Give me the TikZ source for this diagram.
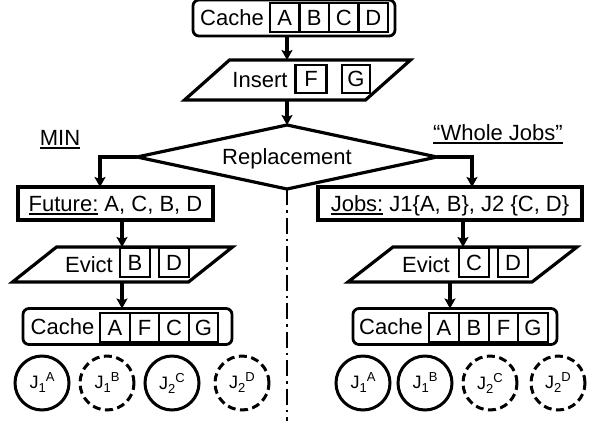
\documentclass[tikz,border=0pt]{standalone}
\usepackage{fontspec}
\setmainfont{Liberation Sans}
\usetikzlibrary{arrows.meta,shapes.geometric,calc}
\newcommand\myul[1]{\setbox0\hbox{#1}\rlap{\rule[-3.5pt]{\wd0}{2pt}}\box0\relax}
\newcommand\jlab[2]{J\raisebox{-4pt}{\fontsize{13}{13}\selectfont #1}\raisebox{7pt}{\fontsize{13}{13}\selectfont #2}}
\newcommand\drawpara[2]{\draw[line width=3.2pt, line join=miter] ([xshift=-#2]#1.south west) -- ([xshift=-#2]#1.south east) -- ([xshift=#2]#1.north east) -- ([xshift=#2]#1.north west) -- cycle;}
\begin{document}
\begin{tikzpicture}[x=1pt,y=-1pt,
  font=\fontsize{22}{24}\selectfont,
  lbl/.style={inner sep=0pt, outer sep=0pt, text height=15.7pt, text depth=0pt},
  boxn/.style={lbl, draw, line width=3.4pt, minimum height=33pt},
  cachebox/.style={draw, rounded corners=6pt, line width=2.8pt, inner sep=0pt, outer sep=0pt, minimum height=36pt},
  sq/.style={lbl, draw, line width=2.4pt, minimum width=29.5pt, minimum height=29pt},
  paran/.style={inner sep=0pt, outer sep=0pt},
  arr/.style={line width=3.2pt, -{Stealth[length=10pt,width=11pt,inset=2pt]}},
  jc/.style={circle, draw, line width=3pt, minimum size=54pt, inner sep=0pt, outer sep=0pt, font=\fontsize{18}{20}\selectfont},
  jd/.style={jc, dash pattern=on 8pt off 4.5pt},
  dd/.style={line width=2.4pt, dash pattern=on 16pt off 5pt on 2.5pt off 5pt}
]
\useasboundingbox (0,0) rectangle (594,421);
\coordinate (mx) at (287,0);

% top cache
\node[cachebox, minimum width=202pt] (c1) at (294,18) {};
\node[lbl] (c1t) at (232,18) {Cache};
\node[sq] (c1a) at (284.75,17.5) {A};
\node[sq] (c1b) at (314.25,17.5) {B};
\node[sq] (c1c) at (343.75,17.5) {C};
\node[sq] (c1d) at (373.25,17.5) {D};

% insert
\node[paran, minimum width=181pt, minimum height=40pt] (ins) at (297.5,80) {};
\drawpara{ins}{22.5pt}
\node[lbl] (inst) at (260,80) {Insert};
\node[sq, minimum width=31pt, minimum height=28pt] (insf) at (311,79) {F};
\node[sq, minimum width=28pt, minimum height=28pt] (insg) at (356,79) {G};
\draw[arr] (mx |- c1.south) -- (mx |- ins.north);

% diamond
\node[diamond, draw, line width=3.2pt, shape aspect=4.7, inner sep=0pt, outer sep=0pt, minimum width=300pt, minimum height=64pt, text height=15.7pt, text depth=0pt] (rep) at (287,157) {Replacement};
\draw[arr] (mx |- ins.south) -- (rep.north);

% labels
\node[lbl] (min) at (60,138) {\myul{MIN}};
\node[lbl] (wj) at (498,133) {\myul{“Whole Jobs”}};

% left branch
\node[boxn, minimum width=195pt] (fut) at (115.5,203.5) {\myul{Future:} A, C, B, D};
\coordinate (lx) at (100,0);
\draw[arr] (rep.west) -| (lx |- fut.north);

\node[paran, minimum width=176pt, minimum height=35pt] (ev1) at (122.5,264.5) {};
\drawpara{ev1}{22pt}
\node[lbl] (ev1t) at (89,264.5) {Evict};
\node[sq, minimum width=30pt, minimum height=29pt] (ev1b) at (135,262.5) {B};
\node[sq, minimum width=30pt, minimum height=29pt] (ev1d) at (174,262.5) {D};
\coordinate (lx2) at (122,0);
\draw[arr] (lx2 |- fut.south) -- (lx2 |- ev1.north);

\node[cachebox, minimum width=209pt] (c2) at (127.5,326.5) {};
\node[lbl] (c2t) at (62.5,327) {Cache};
\node[sq] (c2a) at (115,327.5) {A};
\node[sq] (c2b) at (144.5,327.5) {F};
\node[sq] (c2c) at (174,327.5) {C};
\node[sq] (c2d) at (203.5,327.5) {G};
\draw[arr] (lx2 |- ev1.south) -- (lx2 |- c2.north);

\node[jc] (l1) at (42,383) {\jlab{1}{A}};
\node[jd] (l2) at (107,383) {\jlab{1}{B}};
\node[jc] (l3) at (172,383) {\jlab{2}{C}};
\node[jd] (l4) at (242,383) {\jlab{2}{D}};

% right branch
\node[boxn, minimum width=264pt] (jobs) at (450,203.5) {\myul{Jobs:} J1\{A, B\}, J2 \{C, D\}};
\coordinate (rx) at (472,0);
\draw[arr] (rep.east) -| (rx |- jobs.north);

\node[paran, minimum width=184pt, minimum height=35pt] (ev2) at (462.5,264.5) {};
\drawpara{ev2}{22.5pt}
\node[lbl] (ev2t) at (426,264.5) {Evict};
\node[sq, minimum width=30pt, minimum height=29pt] (ev2c) at (474,262.5) {C};
\node[sq, minimum width=30pt, minimum height=29pt] (ev2d) at (513,262.5) {D};
\coordinate (rx2) at (463,0);
\draw[arr] (rx2 |- jobs.south) -- (rx2 |- ev2.north);

\node[cachebox, minimum width=204pt] (c3) at (455,326.5) {};
\node[lbl] (c3t) at (391,327) {Cache};
\node[sq] (c3a) at (444,327.5) {A};
\node[sq] (c3b) at (474,327.5) {B};
\node[sq] (c3c) at (503.5,327.5) {F};
\node[sq] (c3d) at (533,327.5) {G};
\coordinate (rx3) at (450,0);
\draw[arr] (rx3 |- ev2.south) -- (rx3 |- c3.north);

\node[jc] (r1) at (363,383) {\jlab{1}{A}};
\node[jc] (r2) at (425,383) {\jlab{1}{B}};
\node[jd] (r3) at (490,383) {\jlab{2}{C}};
\node[jd] (r4) at (558,383) {\jlab{2}{D}};

% divider
\coordinate (bot) at (287,421);
\draw[dd] (rep.south) -- (bot);
\end{tikzpicture}
\end{document}
